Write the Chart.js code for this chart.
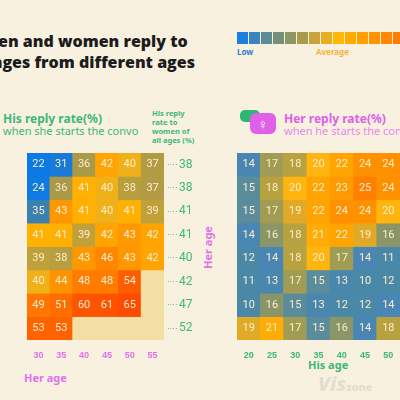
<!DOCTYPE html>
<html>
<head>
<meta charset="utf-8">
<script src="https://cdn.jsdelivr.net/npm/chart.js@4.4.0/dist/chart.umd.min.js"></script>
<style>
body{margin:0;background:#f8f1df;font-family:"Noto Sans",sans-serif;overflow:hidden}
#wrap{position:relative;width:400px;height:400px;overflow:hidden;background:#f8f1df}
.abs{position:absolute;white-space:nowrap}
.title{font-weight:800;font-size:16px;color:#1c1c1c;font-family:"Open Sans",sans-serif}
.lg{display:flex;position:absolute;left:237px;top:32px}
.lg div{width:11px;height:12px;margin-right:1px}
</style>
</head>
<body>
<div id="wrap">
  <div class="abs title" style="left:-18px;top:30px">men and women reply to</div>
  <div class="abs title" style="left:-50px;top:51px">messages from different ages</div>
  <div class="lg" id="legend"></div>
  <div class="abs" style="left:237px;top:46px;font-size:8px;font-weight:700;color:#2a7fd0">Low</div>
  <div class="abs" style="left:316px;top:46px;font-size:8px;font-weight:700;color:#f2b540">Average</div>

  <div class="abs" style="left:3px;top:110px;font-size:12px;font-weight:700;color:#3cb878">His reply rate(%)</div>
  <div class="abs" style="left:3px;top:123px;font-size:11px;color:#3cb878">when she starts the convo</div>
  <div class="abs" style="left:152px;top:109px;font-size:7.5px;font-weight:700;color:#3cb878;line-height:9px;white-space:normal;width:45px">His reply rate to women of all ages (%)</div>

  <div class="abs" style="left:240px;top:110px;width:20px;height:12px;background:#2cb872;border-radius:5px"></div>
  <div class="abs" style="left:250px;top:113px;width:26px;height:21px;background:#e060e8;border-radius:6px;color:#fff;font-size:14px;text-align:center;line-height:21px">♀</div>
  <div class="abs" style="left:284px;top:110px;font-size:12px;font-weight:700;color:#e060e8">Her reply rate(%)</div>
  <div class="abs" style="left:284px;top:123px;font-size:11px;color:#e888ee">when he starts the convo</div>

  <div class="abs" style="left:24px;top:370px;font-size:11px;font-weight:700;color:#e070ec">Her age</div>
  <div class="abs" style="left:186px;top:240px;font-size:11px;font-weight:700;color:#e070ec;transform:rotate(-90deg)">Her age</div>
  <div class="abs" style="left:308px;top:357px;font-size:11px;font-weight:700;color:#3cb878">His age</div>
  <div class="abs" style="left:318px;top:370px;font-size:20px;font-weight:800;color:#e2ddd0;font-style:italic">Vis<span style="font-size:11px;font-style:normal">zone</span></div>

  <canvas id="left" class="abs" style="left:0;top:153px"></canvas>
  <canvas id="right" class="abs" style="left:210px;top:153px"></canvas>
</div>
<script>
// left: his reply rate, columns = her age, rows top->bottom
const herAgesLeft=["30","35","40","45","50","55"]
const hisRates=[
  [22,31,36,42,40,37],
  [24,36,41,40,38,37],
  [35,43,41,40,41,39],
  [41,41,39,42,43,42],
  [39,38,43,46,43,42],
  [40,44,48,48,54,null],
  [49,51,60,61,65,null],
  [53,53,null,null,null,null]
]
const hisAllAges=[38,38,41,41,40,42,47,52]

// right: her reply rate, columns = his age, rows = her age (top->bottom)
const hisAgesRight=["20","25","30","35","40","45","50"]
const herAgesRight=["55","50","45","40","35","30","25","20"]
const herRates=[
  [14,17,18,20,22,24,24],
  [15,18,20,22,23,25,24],
  [15,17,19,22,24,24,20],
  [14,16,18,21,22,19,16],
  [12,14,18,20,17,14,11],
  [11,13,17,15,13,10,12],
  [10,16,15,13,12,12,14],
  [19,21,17,15,16,14,18]
]

const legendColors=['#1a7fe0','#3a84c0','#5a8c98','#74907c','#8e9664','#a89c4c','#c8a43a','#e8ae22','#ffb80a','#ffac00','#ffa000','#ff9400','#ff8800','#ff7c00']
legendColors.forEach(c=>{const d=document.createElement('div');d.style.background=c;document.getElementById('legend').appendChild(d)})

function hex(h){return [1,3,5].map(i=>parseInt(h.substr(i,2),16))}
function ramp(stops){
  return v=>{
    if(v==null) return '#f3dea4'
    if(v<=stops[0][0]) return stops[0][1]
    for(let i=1;i<stops.length;i++){
      if(v<=stops[i][0]){
        const [a,ca]=stops[i-1],[b,cb]=stops[i]
        const t=(v-a)/(b-a),A=hex(ca),B=hex(cb)
        return `rgb(${A.map((x,k)=>Math.round(x+(B[k]-x)*t)).join(',')})`
      }
    }
    return stops[stops.length-1][1]
  }
}
const leftColor=ramp([[22,'#0a7ae6'],[31,'#1a7ad8'],[35,'#3a80b0'],[36,'#aa9a48'],[39,'#c0a038'],[40,'#f0b018'],[41,'#ffb000'],[43,'#ff9800'],[48,'#ff7c00'],[54,'#ff5e00'],[65,'#ff4c00']])
const rightColor=ramp([[10,'#4a88a8'],[12,'#4a88a8'],[14,'#4a86b4'],[15,'#5a8c9c'],[16,'#8a9668'],[18,'#b8a240'],[19,'#e0aa28'],[20,'#ffb40e'],[22,'#ffa400'],[24,'#ff9000'],[25,'#ff8000']])

const cellLabels={
  id:'cellLabels',
  afterDatasetsDraw(chart,args,opts){
    const ctx=chart.ctx
    ctx.save()
    ctx.font='11px "Roboto", sans-serif'
    ctx.fillStyle='#fbecd0'
    ctx.textAlign='center';ctx.textBaseline='middle'
    chart.data.datasets.forEach((ds,di)=>{
      chart.getDatasetMeta(di).data.forEach((el,i)=>{
        const v=ds.values[i]
        if(v!=null) ctx.fillText(v,el.x,(el.y+el.base)/2)
      })
    })
    if(opts.side){
      const ys=chart.scales.y
      ctx.fillStyle='#3cb878';ctx.textAlign='left'
      opts.side.forEach((v,r)=>{
        const y=ys.getPixelForValue(r)
        ctx.font='8px sans-serif';ctx.fillText('····',chart.chartArea.right+3,y)
        ctx.font='12px "Roboto", sans-serif';ctx.fillText(v,chart.chartArea.right+15,y)
      })
    }
    ctx.restore()
  }
}

function heatmap(el,cols,rows,colorFn,opt){
  const datasets=rows.map((row,r)=>({
    data:row.map(()=>[r-0.5,r+0.5]),
    values:row,
    backgroundColor:row.map(colorFn),
    barPercentage:1,categoryPercentage:1,grouped:false,borderWidth:0
  }))
  return new Chart(el,{
    type:'bar',
    data:{labels:cols,datasets},
    plugins:[cellLabels],
    options:{
      responsive:false,animation:false,
      layout:{padding:{right:opt.padRight||0}},
      plugins:{legend:{display:false},tooltip:{enabled:false},cellLabels:{side:opt.side}},
      scales:{
        x:{grid:{display:false},border:{display:false},
           ticks:{color:opt.xColor,font:{size:9,weight:'bold'},padding:2,maxRotation:0,autoSkip:false},
           afterFit:s=>{s.height=19}},
        y:{display:!!opt.yLabels,reverse:true,min:-0.5,max:rows.length-0.5,
           grid:{display:false},border:{display:false},
           ticks:{stepSize:1,color:'#e070ec',font:{size:9,weight:'bold'},callback:v=>opt.yLabels?opt.yLabels[v]:''},
           afterFit:s=>{s.width=27}}
      }
    }
  })
}

const lc=document.getElementById('left');lc.width=222;lc.height=206
const rc=document.getElementById('right');rc.width=190;rc.height=206
heatmap(lc,herAgesLeft,hisRates,leftColor,{xColor:'#e070ec',padRight:58,side:hisAllAges})
heatmap(rc,hisAgesRight,herRates,rightColor,{xColor:'#3cb878',yLabels:herAgesRight})
</script>
</body>
</html>
